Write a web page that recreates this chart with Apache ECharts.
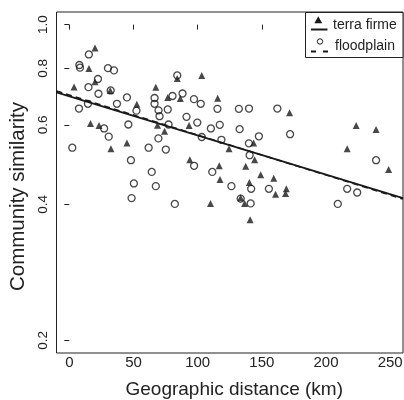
<!DOCTYPE html>
<html><head><meta charset="utf-8">
<script src="https://cdn.jsdelivr.net/npm/echarts@6/dist/echarts.min.js"></script>
<style>html,body{margin:0;padding:0;background:#fff}#c{width:404px;height:400px}</style>
</head><body><div id="c"></div>
<script>
// terra firme (filled triangles)
const terraX = [20.0, 15.3, 3.7, 20.0, 31.9, 67.4, 76.7, 52.6, 16.5, 23.1, 68.7, 74.2, 84.1, 103.2, 86.5, 115.6, 93.3, 32.4, 44.9, 93.9, 116.8, 137.4, 124.4, 143.6, 144.4, 117.4, 149.1, 159.3, 140.3, 169.1, 168.5, 160.7, 110.0, 133.5, 136.6, 140.9, 171.6, 223.5, 239.0, 216.5, 248.8];
const terraY = [0.888, 0.800, 0.728, 0.747, 0.715, 0.727, 0.690, 0.666, 0.604, 0.598, 0.599, 0.581, 0.760, 0.772, 0.686, 0.687, 0.598, 0.531, 0.547, 0.502, 0.487, 0.486, 0.531, 0.547, 0.502, 0.454, 0.465, 0.457, 0.447, 0.433, 0.423, 0.421, 0.402, 0.414, 0.402, 0.370, 0.638, 0.598, 0.586, 0.531, 0.478];
// floodplain (open circles)
const floodX = [15.2, 7.8, 8.3, 30.1, 34.8, 22.3, 14.9, 22.7, 32.2, 44.9, 37.1, 14.5, 7.5, 52.3, 66.4, 66.4, 69.5, 70.3, 76.7, 80.4, 84.1, 88.2, 97.1, 102.4, 91.3, 99.7, 110.3, 117.2, 132.7, 103.2, 118.5, 147.7, 139.9, 172.0, 115.4, 132.1, 140.0, 162.1, 46.0, 27.1, 30.7, 77.3, 2.3, 61.8, 69.4, 75.2, 48.0, 97.2, 64.2, 111.4, 50.3, 67.4, 48.5, 82.2, 140.5, 126.3, 141.7, 155.5, 133.5, 141.3, 239.0, 216.5, 224.3, 209.2];
const floodY = [0.859, 0.814, 0.803, 0.801, 0.792, 0.758, 0.727, 0.703, 0.715, 0.690, 0.668, 0.668, 0.652, 0.645, 0.688, 0.668, 0.646, 0.627, 0.649, 0.695, 0.772, 0.704, 0.684, 0.668, 0.625, 0.607, 0.589, 0.600, 0.587, 0.564, 0.556, 0.566, 0.546, 0.572, 0.651, 0.651, 0.652, 0.652, 0.601, 0.589, 0.565, 0.601, 0.534, 0.534, 0.560, 0.529, 0.501, 0.487, 0.472, 0.472, 0.445, 0.439, 0.413, 0.401, 0.514, 0.439, 0.433, 0.433, 0.412, 0.402, 0.501, 0.433, 0.425, 0.401];
// regression lines (endpoints across plot range)
const lineX = [-10, 260];
const terraLineY = [0.708, 0.413];
const floodLineY = [0.713, 0.411];
// ticks & text
const xTicks = [0, 50, 100, 150, 200, 250];
const yTicks = [0.2, 0.4, 0.6, 0.8, 1.0];
const legendLabels = ['terra firme', 'floodplain'];
const xTitle = 'Geographic distance (km)';
const yTitle = 'Community similarity';

const L = Math.log10;
const xPad = 0.04 * (xTicks[xTicks.length - 1] - xTicks[0]);
const yLo = L(yTicks[0]), yHi = L(yTicks[yTicks.length - 1]);
const yPad = 0.04 * (yHi - yLo);
const FONT = '"Liberation Sans", Arial, Helvetica, sans-serif';
const INK = '#1a1a1a';

const chart = echarts.init(document.getElementById('c'), null, {renderer: 'canvas'});
chart.setOption({
  animation: false,
  backgroundColor: '#fff',
  grid: {left: 56.5, right: 1, top: 12, bottom: 47, show: true, borderColor: '#222', borderWidth: 1, containLabel: false, outerBoundsMode: 'none'},
  xAxis: {
    type: 'value', min: xTicks[0] - xPad, max: xTicks[xTicks.length - 1] + xPad,
    axisLine: {show: false},
    splitLine: {show: false},
    axisTick: {show: true, length: 5, customValues: xTicks, lineStyle: {color: '#222', width: 1}},
    axisLabel: {customValues: xTicks, margin: 2, fontSize: 15, fontFamily: FONT, color: '#222'},
    name: xTitle, nameLocation: 'middle', nameGap: 27,
    nameTextStyle: {fontSize: 19, fontFamily: FONT, color: '#222', padding: [0, 0, 0, 9]}
  },
  yAxis: {
    type: 'value', min: yLo - yPad, max: yHi + yPad,
    axisLine: {show: false},
    splitLine: {show: false},
    axisTick: {show: true, length: 5, customValues: yTicks.map(L), lineStyle: {color: '#222', width: 1}},
    axisLabel: {customValues: yTicks.map(L), rotate: 90, margin: 6, fontSize: 13.5, fontFamily: FONT, color: '#222',
      formatter: v => Math.pow(10, v).toFixed(1)},
    name: yTitle, nameLocation: 'middle', nameGap: 25, nameRotate: 90,
    nameTextStyle: {fontSize: 20.5, fontFamily: FONT, color: '#222', padding: [0, 28, 0, 0]}
  },
  series: [
    {type: 'scatter', silent: true, symbol: 'triangle', symbolSize: 7,
      itemStyle: {color: INK},
      data: terraX.map((x, i) => [x, L(terraY[i])])},
    {type: 'scatter', silent: true, symbol: 'circle', symbolSize: 7,
      itemStyle: {color: 'rgba(0,0,0,0)', borderColor: INK, borderWidth: 1.3},
      data: floodX.map((x, i) => [x, L(floodY[i])])},
    {type: 'line', silent: true, showSymbol: false, symbol: 'none',
      lineStyle: {color: INK, width: 1.8, type: 'solid'},
      data: lineX.map((x, i) => [x, L(terraLineY[i])])},
    {type: 'line', silent: true, showSymbol: false, symbol: 'none',
      lineStyle: {color: INK, width: 1.5, type: [6, 4]},
      data: lineX.map((x, i) => [x, L(floodLineY[i])])}
  ],
  graphic: [
    {type: 'rect', silent: true, z: 100, shape: {x: 305.5, y: 12.5, width: 97.5, height: 45}, style: {fill: '#fff', stroke: '#222', lineWidth: 1}},
    {type: 'polygon', silent: true, z: 101, shape: {points: [[318.3, 16.3], [314.4, 23.3], [322.2, 23.3]]}, style: {fill: INK}},
    {type: 'line', silent: true, z: 101, shape: {x1: 311, y1: 29.5, x2: 327.5, y2: 29.5}, style: {stroke: INK, lineWidth: 2}},
    {type: 'text', silent: true, z: 101, x: 333, y: 25, style: {text: legendLabels[0], font: '14px ' + FONT, fill: '#222', verticalAlign: 'middle'}},
    {type: 'circle', silent: true, z: 101, shape: {cx: 320, cy: 41.5, r: 2.7}, style: {fill: 'none', stroke: INK, lineWidth: 1}},
    {type: 'line', silent: true, z: 101, shape: {x1: 311, y1: 51.5, x2: 328.5, y2: 51.5}, style: {stroke: INK, lineWidth: 2, lineDash: [5, 7]}},
    {type: 'text', silent: true, z: 101, x: 335, y: 46, style: {text: legendLabels[1], font: '14px ' + FONT, fill: '#222', verticalAlign: 'middle'}}
  ]
});
</script>
</body></html>
